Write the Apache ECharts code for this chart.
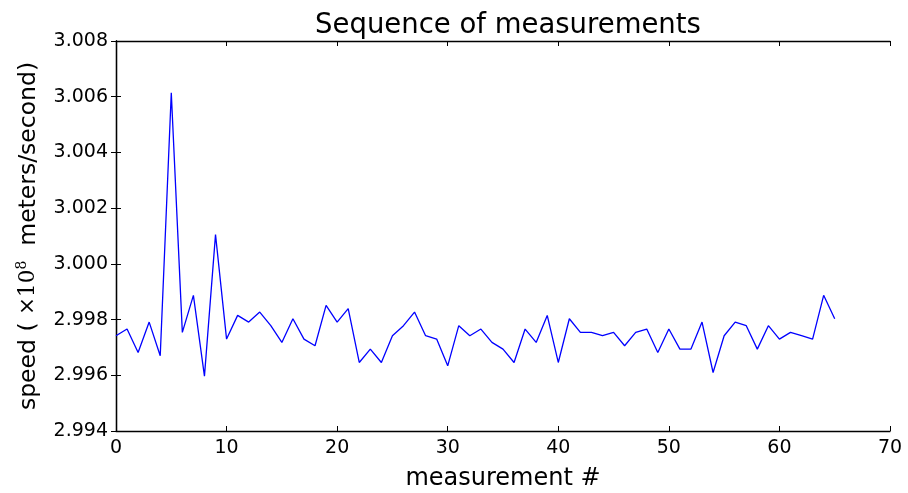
<!DOCTYPE html>
<html>
<head>
<meta charset="utf-8">
<script src="https://cdn.jsdelivr.net/npm/echarts@6/dist/echarts.min.js"></script>
<style>
html,body{margin:0;padding:0;background:#fff;}
#main{width:908px;height:493px;}
</style>
</head>
<body>
<div id="main"></div>
<script>
// measurement index -> speed (x1e8 m/s)
var idx = [];
for (var i = 0; i < 66; i++) idx.push(i);
var speed = [
    2.99742, 2.99766, 2.99682, 2.99791, 2.99670, 3.00614, 2.99754, 2.99887, 2.99597, 3.00105,
    2.99730, 2.99815, 2.99791, 2.99827, 2.99778, 2.99718, 2.99803, 2.99730, 2.99706, 2.99851,
    2.99791, 2.99839, 2.99646, 2.99694, 2.99646, 2.99742, 2.99778, 2.99827, 2.99742, 2.99730,
    2.99634, 2.99778, 2.99742, 2.99766, 2.99718, 2.99694, 2.99646, 2.99766, 2.99718, 2.99815,
    2.99646, 2.99803, 2.99754, 2.99754, 2.99742, 2.99754, 2.99706, 2.99754, 2.99766, 2.99682,
    2.99766, 2.99694, 2.99694, 2.99791, 2.99610, 2.99742, 2.99791, 2.99778, 2.99694, 2.99778,
    2.99730, 2.99754, 2.99742, 2.99730, 2.99887, 2.99803
];
var xTicks = [0, 10, 20, 30, 40, 50, 60, 70];
var yTicks = [2.994, 2.996, 2.998, 3.000, 3.002, 3.004, 3.006, 3.008];

var myChart = echarts.init(document.getElementById('main'));
var font = 'DejaVu Sans';
var points = [];
for (var k = 0; k < speed.length; k++) points.push([idx[k], speed[k]]);

var tickStyle = {show: true, inside: true, length: 5, lineStyle: {color: '#000', width: 1}};
var lineStyle = {lineStyle: {color: '#000', width: 1.3}};

option = {
    animation: false,
    backgroundColor: '#fff',
    title: {
        text: 'Sequence of measurements',
        left: 503,
        top: 7,
        textAlign: 'center',
        textStyle: {fontFamily: font, fontSize: 27.5, fontWeight: 'normal', color: '#000'}
    },
    grid: {left: 116, right: 18, top: 41, bottom: 62, outerBoundsMode: 'none', containLabel: false},
    xAxis: [
        {
            type: 'value',
            min: xTicks[0],
            max: xTicks[xTicks.length - 1],
            interval: 10,
            name: 'measurement #',
            nameLocation: 'middle',
            nameGap: 36,
            nameTextStyle: {fontFamily: font, fontSize: 24, color: '#000'},
            axisLine: lineStyle,
            axisTick: tickStyle,
            axisLabel: {fontFamily: font, fontSize: 19, color: '#000', margin: 8},
            splitLine: {show: false}
        },
        {
            type: 'value',
            position: 'top',
            min: xTicks[0],
            max: xTicks[xTicks.length - 1],
            interval: 10,
            axisLine: lineStyle,
            axisTick: tickStyle,
            axisLabel: {show: false},
            splitLine: {show: false}
        }
    ],
    yAxis: [
        {
            type: 'value',
            min: yTicks[0],
            max: yTicks[yTicks.length - 1],
            interval: 0.002,
            name: '{t|speed ( }{m|×10}{s|8}{t|  meters/second)}',
            nameLocation: 'middle',
            nameGap: 74,
            nameRotate: 90,
            nameTextStyle: {
                rich: {
                    t: {fontFamily: font, fontSize: 23.5, color: '#000'},
                    m: {fontFamily: 'DejaVu Serif', fontSize: 21.5, color: '#000'},
                    s: {fontFamily: 'DejaVu Serif', fontSize: 14, color: '#000', verticalAlign: 'top', padding: [0, 0, 13, 0]}
                }
            },
            axisLine: lineStyle,
            axisTick: tickStyle,
            axisLabel: {
                fontFamily: font, fontSize: 19, color: '#000', margin: 8,
                formatter: function (v) { return v.toFixed(3); }
            },
            splitLine: {show: false}
        },
        {
            type: 'value',
            position: 'right',
            min: yTicks[0],
            max: yTicks[yTicks.length - 1],
            interval: 0.002,
            axisLine: lineStyle,
            axisTick: tickStyle,
            axisLabel: {show: false},
            splitLine: {show: false}
        }
    ],
    series: [
        {
            type: 'line',
            data: points,
            showSymbol: false,
            lineStyle: {color: '#0000ff', width: 1.3},
            itemStyle: {color: '#0000ff'}
        }
    ]
};
myChart.setOption(option);
</script>
</body>
</html>
